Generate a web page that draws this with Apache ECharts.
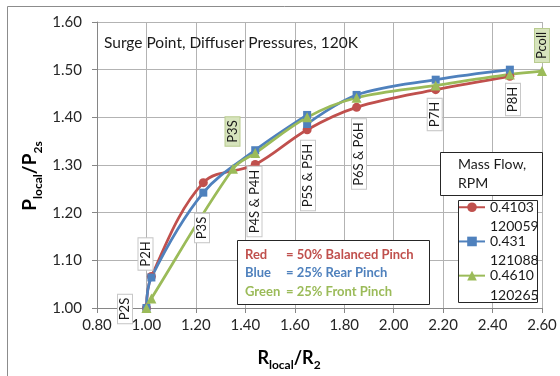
<!DOCTYPE html>
<html>
<head>
<meta charset="utf-8">
<script src="https://cdn.jsdelivr.net/npm/echarts@6/dist/echarts.min.js"></script>
<style>
  html, body { margin: 0; padding: 0; background: #fff; }
  #chart { width: 560px; height: 376px; }
</style>
</head>
<body>
<div id="chart"></div>
<script>
const FONT = 'Lato, "Open Sans", sans-serif';

// Axis ticks
const xTicks = [0.80, 1.00, 1.20, 1.40, 1.60, 1.80, 2.00, 2.20, 2.40, 2.60];
const yTicks = [1.00, 1.10, 1.20, 1.30, 1.40, 1.50, 1.60];

// Radius ratio R_local/R_2 and pressure ratio P_local/P_2s, one pair of arrays per pinch case
const redR   = [1.00, 1.02, 1.23, 1.44, 1.65, 1.85, 2.17, 2.47];
const redP   = [1.000, 1.066, 1.263, 1.301, 1.374, 1.421, 1.458, 1.486];
const blueR  = [1.00, 1.02, 1.23, 1.44, 1.65, 1.65, 1.85, 2.17, 2.47];
const blueP  = [1.000, 1.064, 1.242, 1.331, 1.405, 1.386, 1.447, 1.479, 1.500];
const greenR = [1.00, 1.02, 1.35, 1.44, 1.65, 1.85, 2.17, 2.47, 2.60];
const greenP = [1.000, 1.020, 1.292, 1.325, 1.400, 1.441, 1.467, 1.490, 1.497];

// Mass flow and speed of each run (legend entries)
const seriesNames = ['0.4103\n120059', '0.431\n121088', '0.4610\n120265'];

// Pressure tap names
const tapLabels = ['P2S', 'P2H', 'P3S', 'P3S', 'P4S & P4H', 'P5S & P5H', 'P6S & P6H', 'P7H', 'P8H', 'Pcoll'];
const tapIsFront = [false, false, false, true, false, false, false, false, false, true];
// Label box centres on the page
const tapPos = [[125, 309], [145.5, 254], [202, 228], [232.5, 131.5], [254.5, 201.5],
                [308, 175.5], [359, 154], [434.7, 114.5], [513, 99.5], [542, 45.5]];

const RED = '#c0504d', BLUE = '#4f81bd', GREEN = '#9bbb59';

const zip = (a, b) => a.map((v, i) => [v, b[i]]);

const lineSeries = (name, r, p, color, symbol, size) => ({
  name, type: 'line', data: zip(r, p),
  smooth: 0.35, symbol, symbolSize: size,
  lineStyle: { color, width: 2.75 },
  itemStyle: { color },
  emphasis: { disabled: true }
});

const tapGraphics = tapLabels.map((t, i) => ({
  type: 'text', x: tapPos[i][0], y: tapPos[i][1], rotation: Math.PI / 2, z: 10,
  style: {
    text: t, fontFamily: FONT, fontSize: 13, lineHeight: 12, fill: '#1a1a1a',
    align: 'center', verticalAlign: 'middle',
    backgroundColor: tapIsFront[i] ? '#d7e4bd' : '#ffffff',
    borderColor: tapIsFront[i] ? '#b9cc8f' : '#c8c8c8', borderWidth: 1,
    padding: [1, 3]
  }
}));

const chart = echarts.init(document.getElementById('chart'), null, { renderer: 'canvas' });

chart.setOption({
  animation: false,
  backgroundColor: '#ffffff',
  grid: { left: 97, top: 22, width: 445, height: 286 },
  xAxis: {
    type: 'value', min: xTicks[0], max: xTicks[xTicks.length - 1], interval: 0.2,
    axisLine: { show: true, lineStyle: { color: '#868686', width: 1 } },
    axisTick: { show: true, length: 5, lineStyle: { color: '#868686' } },
    splitLine: { show: true, lineStyle: { color: '#b3b3b3', width: 1 } },
    axisLabel: { fontFamily: FONT, fontSize: 15, color: '#262626', margin: 10,
                 formatter: v => v.toFixed(2) }
  },
  yAxis: {
    type: 'value', min: yTicks[0], max: yTicks[yTicks.length - 1], interval: 0.1,
    axisLine: { show: true, lineStyle: { color: '#868686', width: 1 } },
    axisTick: { show: true, length: 5, lineStyle: { color: '#868686' } },
    splitLine: { show: true, lineStyle: { color: '#b3b3b3', width: 1 } },
    axisLabel: { fontFamily: FONT, fontSize: 15, color: '#262626', margin: 15,
                 formatter: v => v.toFixed(2) }
  },
  legend: {
    orient: 'vertical', left: 458, top: 178, padding: 0, itemGap: -24.3,
    itemWidth: 26, itemHeight: 12,
    selectedMode: false,
    formatter: n => '\n' + n,
    textStyle: { fontFamily: FONT, fontSize: 14, lineHeight: 19.5, color: '#1a1a1a' },
    data: seriesNames
  },
  series: [
    lineSeries(seriesNames[0], redR, redP, RED, 'circle', 9),
    lineSeries(seriesNames[1], blueR, blueP, BLUE, 'rect', 8),
    lineSeries(seriesNames[2], greenR, greenP, GREEN, 'triangle', 10)
  ],
  graphic: [
    // chart frame
    { type: 'rect', z: 0, silent: true,
      shape: { x: 7.5, y: 6.5, width: 560, height: 380 },
      style: { fill: 'none', stroke: '#8c8c8c', lineWidth: 1 } },
    // title
    { type: 'text', x: 104, y: 43, z: 10,
      style: { text: 'Surge Point, Diffuser Pressures, 120K', fontFamily: FONT, fontSize: 15.5,
               fill: '#1a1a1a', verticalAlign: 'middle' } },
    // y axis title
    { type: 'text', x: 30, y: 176, rotation: Math.PI / 2, z: 10,
      style: {
        text: '{m|P}{s|local}{m|/P}{s|2s}', align: 'center', verticalAlign: 'middle',
        rich: {
          m: { fontFamily: FONT, fontSize: 19, fontWeight: 'bold', fill: '#000', lineHeight: 28, verticalAlign: 'middle' },
          s: { fontFamily: FONT, fontSize: 12, fontWeight: 'bold', fill: '#000', lineHeight: 13, verticalAlign: 'bottom' }
        }
      } },
    // x axis title
    { type: 'text', x: 289, y: 358, z: 10,
      style: {
        text: '{m|R}{s|local}{m|/R}{s|2}', align: 'center', verticalAlign: 'middle',
        rich: {
          m: { fontFamily: FONT, fontSize: 18, fontWeight: 'bold', fill: '#000', lineHeight: 26, verticalAlign: 'middle' },
          s: { fontFamily: FONT, fontSize: 12, fontWeight: 'bold', fill: '#000', lineHeight: 13, verticalAlign: 'bottom' }
        }
      } },
    // colour key
    { type: 'rect', z: 10, shape: { x: 237.5, y: 240.5, width: 192, height: 64 },
      style: { fill: '#fff', stroke: '#262626', lineWidth: 1 } },
    { type: 'text', x: 245, y: 245, z: 11,
      style: {
        text: '{r|Red}{rv|= 50% Balanced Pinch}\n{b|Blue}{bv|= 25% Rear Pinch}\n{g|Green}{gv|= 25% Front Pinch}',
        rich: {
          r:  { fontFamily: FONT, fontSize: 13, fontWeight: 'bold', fill: RED, width: 41, lineHeight: 18.7 },
          rv: { fontFamily: FONT, fontSize: 13, fontWeight: 'bold', fill: RED, lineHeight: 18.7 },
          b:  { fontFamily: FONT, fontSize: 13, fontWeight: 'bold', fill: BLUE, width: 41, lineHeight: 18.7 },
          bv: { fontFamily: FONT, fontSize: 13, fontWeight: 'bold', fill: BLUE, lineHeight: 18.7 },
          g:  { fontFamily: FONT, fontSize: 13, fontWeight: 'bold', fill: GREEN, width: 41, lineHeight: 18.7 },
          gv: { fontFamily: FONT, fontSize: 13, fontWeight: 'bold', fill: GREEN, lineHeight: 18.7 }
        }
      } },
    // legend heading
    { type: 'rect', z: 3, shape: { x: 440.5, y: 152.5, width: 102, height: 43 },
      style: { fill: '#fff', stroke: '#262626', lineWidth: 1 } },
    { type: 'text', x: 458, y: 155.7, z: 11,
      style: { text: 'Mass Flow,\nRPM', fontFamily: FONT, fontSize: 14, lineHeight: 18.5, fill: '#1a1a1a' } },
    // legend frame
    { type: 'rect', z: 3, shape: { x: 458.5, y: 200.5, width: 79, height: 102 },
      style: { fill: '#fff', stroke: '#262626', lineWidth: 1 } }
  ].concat(tapGraphics)
});
</script>
</body>
</html>
